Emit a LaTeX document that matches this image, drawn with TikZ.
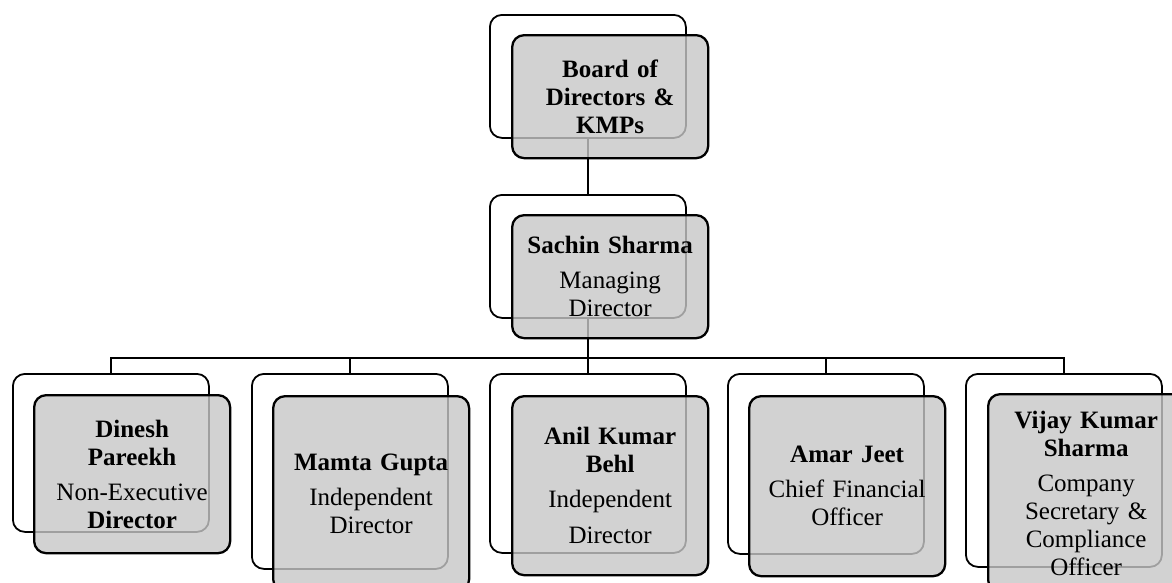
\documentclass[tikz,border=0pt]{standalone}
\usepackage{fontspec}
\setmainfont{Liberation Serif}
\usepackage{tikz}
\usetikzlibrary{positioning}
\definecolor{boxgray}{RGB}{199,199,199}

\begin{document}
\begin{tikzpicture}[
    x=1pt, y=-1pt,
    backbox/.style={draw, line width=1.8pt, rounded corners=12pt, minimum width=196pt, inner sep=0pt, anchor=north west},
    frontbox/.style={draw, line width=2.3pt, rounded corners=12pt, fill=boxgray, fill opacity=0.8, text opacity=1, text width=190pt, inner sep=3pt, align=center, anchor=north west, font=\fontsize{25}{28}\selectfont},
    link/.style={line width=1.8pt}
]
\useasboundingbox (0,0) rectangle (1172,582);

% Back frames
\node[backbox, minimum height=123pt] (back-bd) at (489,14) {};
\node[backbox, minimum height=123pt] (back-ms) at (489,194) {};
\node[backbox, minimum height=158pt] (back-dp) at (12,373) {};
\node[backbox, minimum height=195pt] (back-mg) at (251,373) {};
\node[backbox, minimum height=179pt] (back-ak) at (489,373) {};
\node[backbox, minimum height=180pt] (back-aj) at (727,373) {};
\node[backbox, minimum height=193pt] (back-vk) at (965,373) {};

% Connectors
\coordinate[below=39pt of back-ms.south] (bar);
\draw[link] (back-bd.south) -- (back-ms.north);
\draw[link] (back-ms.south) -- (bar);
\foreach \n in {dp,mg,ak,aj,vk}
    \draw[link] (bar) -| (back-\n.north);

% Front boxes
\node[frontbox, minimum height=123pt] (bd) at ([shift={(22,20)}]back-bd.north west)
    {\textbf{Board of}\\\textbf{Directors \&}\\\textbf{KMPs}};
\node[frontbox, minimum height=123pt] (ms) at ([shift={(22,20)}]back-ms.north west)
    {\textbf{Sachin Sharma}\\[7pt]Managing\\Director};
\node[frontbox, minimum height=158pt] (dp) at ([shift={(21,21)}]back-dp.north west)
    {\textbf{Dinesh}\\\textbf{Pareekh}\\[7pt]Non-Executive\\\textbf{Director}};
\node[frontbox, minimum height=195pt] (mg) at ([shift={(21,22)}]back-mg.north west)
    {\textbf{Mamta Gupta}\\[7pt]Independent\\Director};
\node[frontbox, minimum height=179pt] (ak) at ([shift={(22,22)}]back-ak.north west)
    {\textbf{Anil Kumar}\\\textbf{Behl}\\[7pt]Independent\\[8pt]Director};
\node[frontbox, minimum height=180pt] (aj) at ([shift={(21,22)}]back-aj.north west)
    {\textbf{Amar Jeet}\\[7pt]Chief Financial\\Officer};
\node[frontbox, minimum height=198pt] (vk) at ([shift={(22,20)}]back-vk.north west)
    {\textbf{Vijay Kumar}\\\textbf{Sharma}\\[7pt]Company\\Secretary \&\\Compliance\\Officer};

\end{tikzpicture}
\end{document}
